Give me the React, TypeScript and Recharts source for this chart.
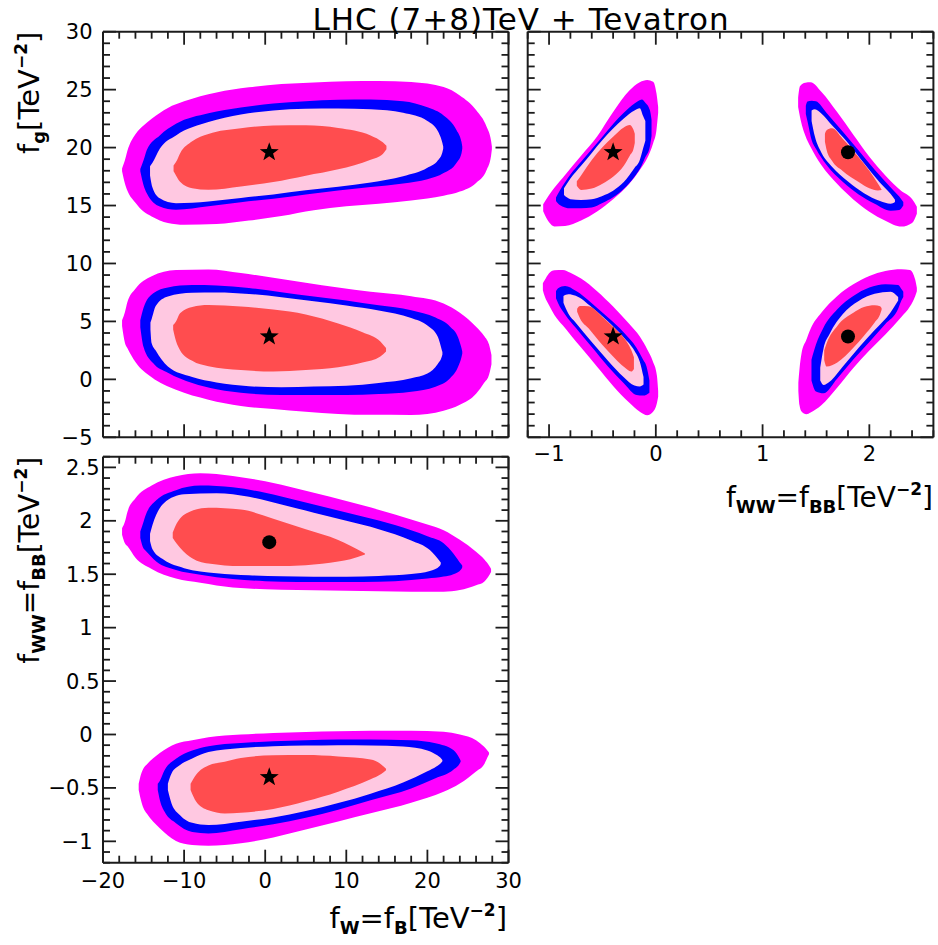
import React from "react";
import { ComposedChart, Area, Scatter, XAxis, YAxis } from "recharts";

// each row: x, lower edge, upper edge of a filled contour band
type Row = [number, number, number];
type Pt = { x: number; y: number };

const MAGENTA = "#ff00ff";
const BLUE = "#0000ff";
const PINK = "#ffc8e1";
const RED = "#ff4d4f";
const INK = "#1c1c1c";
const FONT = "'DejaVu Sans', Verdana, sans-serif";

// ---- panel A: f_g vs f_W=f_B ----
const aMagUp: Row[] = [
  [-17.65, 17.95, 18.2], [-17.3, 16.9, 18.9], [-17.0, 16.3, 19.7], [-16.0, 15.25, 21.15],
  [-15.0, 14.48, 21.9], [-14.0, 14.06, 22.48], [-12.0, 13.49, 23.42], [-10.0, 13.34, 23.99],
  [-6.0, 13.4, 24.76], [-2.0, 13.7, 25.2], [2.0, 14.1, 25.48], [6.0, 14.6, 25.62],
  [10.0, 14.93, 25.72], [14.0, 15.15, 25.75], [18.0, 15.44, 25.65], [22.0, 15.84, 25.22],
  [24.0, 16.2, 24.5], [26.0, 16.95, 23.25], [27.3, 18.07, 21.8], [27.85, 19.3, 20.6],
  [27.95, 19.85, 20.1],
];
const aBlueUp: Row[] = [
  [-15.4, 17.95, 18.15], [-15.0, 16.76, 18.9], [-14.6, 16.06, 19.8], [-13.0, 14.92, 21.05],
  [-11.0, 14.64, 22.05], [-7.0, 14.93, 22.96], [-3.0, 15.29, 23.46], [1.0, 15.59, 23.8],
  [5.0, 15.96, 24.0], [9.0, 16.3, 24.12], [13.0, 16.6, 24.14], [17.0, 16.9, 24.0],
  [20.0, 17.27, 23.47], [22.0, 17.8, 22.77], [23.6, 18.7, 21.5], [24.2, 19.5, 20.5],
  [24.3, 19.9, 20.1],
];
const aPinkUp: Row[] = [
  [-14.2, 17.6, 18.4], [-13.9, 16.55, 18.7], [-13.0, 15.62, 19.9], [-11.0, 15.2, 21.05],
  [-7.0, 15.35, 22.2], [-3.0, 15.65, 22.85], [1.0, 15.96, 23.2], [5.0, 16.31, 23.35],
  [9.0, 16.63, 23.37], [13.0, 16.99, 23.3], [17.0, 17.52, 23.0], [20.0, 18.25, 22.3],
  [21.3, 18.9, 21.4], [21.85, 19.6, 20.4], [21.95, 19.9, 20.1],
];
const aRedUp: Row[] = [
  [-11.3, 17.95, 18.45], [-11.0, 17.6, 18.75], [-10.5, 17.06, 19.5], [-9.0, 16.5, 20.55],
  [-7.0, 16.36, 21.18], [-3.0, 16.65, 21.67], [1.0, 17.02, 21.9], [5.0, 17.57, 21.93],
  [9.0, 18.12, 21.7], [13.0, 18.95, 21.05], [14.5, 19.45, 20.45], [14.95, 19.85, 20.15],
];
const aMagLo: Row[] = [
  [-17.65, 4.6, 5.1], [-17.3, 3.15, 5.8], [-17.0, 2.7, 6.65], [-16.0, 1.49, 7.82],
  [-14.0, 0.18, 8.9], [-11.0, -0.9, 9.43], [-7.0, -1.75, 9.49], [-3.0, -2.3, 9.18],
  [1.0, -2.56, 8.76], [5.0, -2.8, 8.34], [9.0, -2.98, 7.93], [13.0, -3.06, 7.55],
  [18.0, -3.07, 7.17], [22.0, -2.7, 6.54], [24.0, -2.2, 5.75], [26.0, -1.25, 4.55],
  [27.0, -0.3, 3.75], [27.6, 0.4, 3.0], [27.9, 1.3, 2.1],
];
const aBlueLo: Row[] = [
  [-15.4, 4.5, 5.1], [-15.0, 2.8, 6.17], [-13.8, 1.38, 7.42], [-12.0, 0.57, 7.93],
  [-9.0, -0.32, 8.14], [-6.0, -0.86, 8.1], [-2.0, -1.22, 7.88], [2.0, -1.35, 7.52],
  [6.0, -1.35, 7.15], [10.0, -1.35, 6.81], [14.0, -1.27, 6.39], [18.0, -1.07, 5.97],
  [21.0, -0.64, 5.33], [22.8, 0.09, 4.54], [23.8, 1.1, 3.6], [24.2, 1.9, 2.7],
  [24.3, 2.2, 2.4],
];
const aPinkLo: Row[] = [
  [-14.15, 4.3, 4.9], [-14.0, 3.11, 5.2], [-13.5, 2.48, 6.32], [-12.0, 1.1, 7.15],
  [-9.0, 0.2, 7.47], [-6.0, -0.27, 7.5], [-2.0, -0.59, 7.37], [2.0, -0.69, 7.09],
  [6.0, -0.62, 6.75], [10.0, -0.55, 6.38], [14.0, -0.31, 5.95], [18.0, 0.1, 5.3],
  [20.0, 0.5, 4.65], [21.3, 1.35, 3.65], [21.75, 1.9, 2.6], [21.85, 2.15, 2.35],
];
const aRedLo: Row[] = [
  [-11.35, 4.3, 4.7], [-11.0, 3.3, 5.0], [-10.5, 2.52, 5.7], [-9.0, 1.6, 6.25],
  [-7.0, 1.13, 6.41], [-3.0, 0.8, 6.28], [1.0, 0.68, 6.02], [5.0, 0.8, 5.6],
  [9.0, 1.05, 4.82], [12.0, 1.45, 4.07], [14.2, 1.97, 3.27], [14.9, 2.4, 2.7],
];

// ---- panel B: f_g vs f_WW=f_BB ----
const bMagUL: Row[] = [
  [-1.055, 14.5, 15.1], [-1.0, 13.55, 15.9], [-0.95, 13.2, 16.53], [-0.85, 13.23, 17.64],
  [-0.7, 13.7, 19.3], [-0.55, 14.48, 20.96], [-0.4, 15.54, 23.07], [-0.25, 16.85, 24.91],
  [-0.15, 18.06, 25.64], [-0.08, 19.1, 25.83], [-0.025, 20.37, 25.69], [0.006, 21.52, 24.68],
  [0.022, 23.0, 23.5],
];
const bBlueUL: Row[] = [
  [-0.935, 15.4, 15.7], [-0.9, 15.05, 16.27], [-0.8, 14.76, 17.67], [-0.7, 14.76, 18.77],
  [-0.6, 14.83, 19.85], [-0.5, 15.22, 20.93], [-0.4, 15.71, 22.04], [-0.3, 16.45, 23.0],
  [-0.2, 17.49, 23.8], [-0.13, 18.5, 24.15], [-0.1, 19.14, 23.9], [-0.056, 20.08, 23.24],
  [-0.04, 21.0, 22.4],
];
const bPinkUL: Row[] = [
  [-0.86, 15.9, 16.5], [-0.8, 15.55, 17.33], [-0.7, 15.48, 18.43], [-0.6, 15.54, 19.54],
  [-0.5, 15.83, 20.65], [-0.4, 16.28, 21.64], [-0.3, 17.02, 22.51], [-0.2, 18.24, 23.2],
  [-0.15, 18.93, 23.39], [-0.12, 19.91, 22.75], [-0.098, 20.6, 22.3],
];
const bRedUL: Row[] = [
  [-0.74, 16.7, 17.1], [-0.7, 16.35, 17.6], [-0.6, 16.47, 18.93], [-0.5, 16.89, 20.02],
  [-0.4, 17.49, 20.94], [-0.3, 18.44, 21.74], [-0.244, 19.3, 21.95], [-0.21, 19.85, 21.55],
  [-0.197, 20.4, 21.2],
];
const bMagUR: Row[] = [
  [1.333, 23.5, 24.3], [1.35, 22.67, 25.3], [1.4, 21.05, 25.6], [1.45, 20.05, 25.64],
  [1.55, 18.49, 24.82], [1.7, 16.85, 23.04], [1.85, 15.53, 21.11], [2.0, 14.47, 19.22],
  [2.15, 13.69, 17.6], [2.3, 13.18, 16.25], [2.4, 13.5, 15.56], [2.445, 14.3, 14.9],
];
const bBlueUR: Row[] = [
  [1.405, 22.9, 23.6], [1.42, 22.3, 23.98], [1.46, 20.64, 24.05], [1.5, 19.9, 24.0],
  [1.6, 18.5, 22.99], [1.75, 17.05, 21.39], [1.9, 15.96, 19.75], [2.05, 15.16, 18.09],
  [2.2, 14.56, 16.56], [2.28, 14.62, 15.77], [2.318, 15.0, 15.3],
];
const bPinkUR: Row[] = [
  [1.459, 22.3, 23.2], [1.49, 20.95, 23.3], [1.55, 19.58, 22.95], [1.65, 18.35, 21.93],
  [1.8, 17.07, 20.4], [1.95, 16.07, 18.64], [2.1, 15.39, 16.96], [2.2, 15.15, 15.99],
  [2.24, 15.3, 15.5],
];
const bRedUR: Row[] = [
  [1.584, 20.5, 21.2], [1.6, 19.79, 21.5], [1.65, 18.86, 21.66], [1.75, 17.99, 20.77],
  [1.9, 17.04, 19.17], [2.0, 16.49, 18.0], [2.08, 16.3, 16.9], [2.115, 16.33, 16.36],
];
const bMagLL: Row[] = [
  [-1.058, 7.7, 8.3], [-1.04, 7.14, 8.58], [-1.0, 6.4, 9.16], [-0.95, 5.56, 9.42],
  [-0.87, 4.64, 9.44], [-0.8, 3.85, 9.2], [-0.7, 2.75, 8.7], [-0.55, 1.09, 7.61],
  [-0.4, -0.57, 6.28], [-0.25, -2.0, 4.79], [-0.15, -2.8, 3.69], [-0.08, -3.1, 2.58],
  [-0.03, -2.84, 1.61], [0.01, -2.06, 0.33], [0.022, -1.5, -1.0],
];
const bBlueLL: Row[] = [
  [-0.935, 7.0, 7.6], [-0.915, 6.56, 7.86], [-0.85, 5.6, 8.05], [-0.75, 4.45, 7.64],
  [-0.6, 2.79, 6.57], [-0.45, 1.13, 5.35], [-0.3, -0.34, 4.05], [-0.18, -1.35, 2.71],
  [-0.12, -1.4, 1.71], [-0.087, -1.32, 1.1], [-0.06, -1.15, -0.1],
];
const bPinkLL: Row[] = [
  [-0.865, 6.6, 7.2], [-0.82, 5.68, 7.35], [-0.75, 4.89, 7.22], [-0.6, 3.22, 6.23],
  [-0.45, 1.63, 5.01], [-0.3, 0.18, 3.62], [-0.2, -0.54, 2.47], [-0.15, -0.62, 1.53],
  [-0.115, -0.45, 0.2],
];
const bRedLL: Row[] = [
  [-0.737, 5.84, 6.1], [-0.71, 5.25, 6.33], [-0.63, 4.4, 6.3], [-0.5, 2.96, 5.39],
  [-0.38, 1.78, 4.37], [-0.3, 1.08, 3.6], [-0.23, 0.67, 2.53], [-0.205, 0.9, 1.9],
];
const bMagLR: Row[] = [
  [1.335, -1.0, -0.3], [1.345, -2.2, 0.8], [1.365, -2.78, 2.25], [1.41, -3.01, 3.41],
  [1.45, -2.86, 4.36], [1.55, -2.24, 5.74], [1.7, -0.7, 7.2], [1.85, 0.99, 8.2],
  [2.0, 2.48, 8.92], [2.15, 3.87, 9.35], [2.3, 5.39, 9.5], [2.38, 6.28, 9.44],
  [2.43, 7.2, 8.6], [2.445, 7.6, 7.9],
];
const bBlueLR: Row[] = [
  [1.458, -0.1, 1.7], [1.5, -1.05, 3.0], [1.57, -1.2, 4.46], [1.7, 0.08, 6.05],
  [1.85, 1.71, 7.19], [2.0, 3.23, 7.92], [2.15, 4.77, 8.2], [2.27, 6.09, 8.14],
  [2.3, 6.8, 7.8], [2.318, 7.1, 7.57],
];
const bPinkLR: Row[] = [
  [1.54, -0.1, 1.0], [1.57, -0.48, 2.62], [1.63, -0.18, 3.95], [1.75, 1.09, 5.62],
  [1.9, 2.73, 6.76], [2.05, 4.25, 7.38], [2.2, 5.79, 7.57], [2.27, 6.8, 7.1],
];
const bRedLR: Row[] = [
  [1.577, 1.67, 2.5], [1.6, 1.1, 3.12], [1.7, 1.45, 4.61], [1.85, 2.72, 5.74],
  [1.95, 3.77, 6.24], [2.05, 4.91, 6.39], [2.1, 5.6, 6.3], [2.115, 6.0, 6.13],
];

// ---- panel C: f_WW=f_BB vs f_W=f_B ----
const cMagUp: Row[] = [
  [-17.65, 1.87, 1.93], [-17.3, 1.79, 1.99], [-17.0, 1.764, 2.08], [-16.0, 1.655, 2.21],
  [-14.0, 1.55, 2.33], [-11.0, 1.46, 2.417], [-8.0, 1.42, 2.445], [-4.0, 1.375, 2.42],
  [0.0, 1.36, 2.37], [4.0, 1.352, 2.3], [8.0, 1.348, 2.225], [12.0, 1.343, 2.145],
  [16.0, 1.338, 2.06], [20.0, 1.336, 1.965], [22.0, 1.337, 1.912], [24.0, 1.352, 1.822],
  [26.0, 1.397, 1.71], [27.0, 1.43, 1.64], [27.7, 1.5, 1.57], [27.85, 1.52, 1.55],
];
const cBlueUp: Row[] = [
  [-15.4, 1.84, 1.9], [-15.0, 1.74, 1.99], [-14.8, 1.725, 2.04], [-13.4, 1.617, 2.194],
  [-11.0, 1.54, 2.287], [-8.0, 1.495, 2.33], [-4.0, 1.455, 2.313], [0.0, 1.435, 2.263],
  [4.0, 1.428, 2.19], [8.0, 1.427, 2.115], [12.0, 1.428, 2.04], [16.0, 1.435, 1.96],
  [20.0, 1.46, 1.855], [22.0, 1.478, 1.79], [23.2, 1.5, 1.695], [24.2, 1.55, 1.59],
  [24.3, 1.565, 1.58],
];
const cPinkUp: Row[] = [
  [-14.2, 1.81, 1.88], [-13.9, 1.733, 1.96], [-12.5, 1.635, 2.165], [-10.0, 1.557, 2.248],
  [-6.0, 1.51, 2.258], [-2.0, 1.49, 2.225], [2.0, 1.482, 2.152], [6.0, 1.477, 2.076],
  [10.0, 1.477, 2.0], [14.0, 1.484, 1.922], [18.0, 1.502, 1.816], [20.3, 1.53, 1.726],
  [21.55, 1.58, 1.62], [21.65, 1.595, 1.61],
];
const cRedUp: Row[] = [
  [-11.4, 1.84, 1.89], [-10.9, 1.785, 1.977], [-9.3, 1.664, 2.085], [-7.0, 1.6, 2.122],
  [-3.0, 1.576, 2.105], [1.0, 1.576, 2.02], [5.0, 1.585, 1.92], [9.0, 1.618, 1.82],
  [10.5, 1.64, 1.766], [12.3, 1.685, 1.693],
];
const cMagLo: Row[] = [
  [-15.6, -0.52, -0.46], [-15.3, -0.62, -0.37], [-15.0, -0.69, -0.315], [-14.6, -0.74, -0.28],
  [-13.0, -0.878, -0.174], [-11.0, -0.997, -0.087], [-9.0, -1.035, -0.055], [-7.0, -1.042, -0.025],
  [-3.0, -1.018, 0.0], [1.0, -0.964, 0.015], [5.0, -0.89, 0.024], [9.0, -0.814, 0.03],
  [13.0, -0.738, 0.035], [18.0, -0.64, 0.035], [22.0, -0.537, 0.025], [24.0, -0.459, 0.0],
  [26.0, -0.346, -0.053], [27.0, -0.279, -0.115], [27.5, -0.2, -0.16], [27.6, -0.185, -0.17],
];
const cBlueLo: Row[] = [
  [-13.25, -0.52, -0.46], [-13.0, -0.61, -0.435], [-12.4, -0.724, -0.333], [-11.0, -0.83, -0.227],
  [-9.0, -0.912, -0.15], [-7.0, -0.926, -0.11], [-3.0, -0.886, -0.08], [1.0, -0.839, -0.063],
  [5.0, -0.779, -0.054], [9.0, -0.705, -0.048], [13.0, -0.616, -0.047], [18.0, -0.505, -0.053],
  [21.0, -0.41, -0.083], [23.2, -0.33, -0.146], [24.0, -0.27, -0.23], [24.1, -0.255, -0.245],
];
const cPinkLo: Row[] = [
  [-12.0, -0.52, -0.46], [-11.55, -0.645, -0.365], [-10.5, -0.755, -0.286], [-9.0, -0.827, -0.225],
  [-7.0, -0.848, -0.165], [-3.0, -0.816, -0.127], [1.0, -0.776, -0.11], [5.0, -0.716, -0.104],
  [9.0, -0.642, -0.1], [13.0, -0.554, -0.102], [17.0, -0.45, -0.112], [20.0, -0.345, -0.15],
  [21.1, -0.3, -0.19], [21.75, -0.26, -0.23], [21.85, -0.25, -0.24],
];
const cRedLo: Row[] = [
  [-9.2, -0.52, -0.46], [-8.5, -0.63, -0.375], [-7.0, -0.71, -0.29], [-5.0, -0.739, -0.255],
  [-3.0, -0.732, -0.22], [1.0, -0.697, -0.195], [5.0, -0.625, -0.193], [9.0, -0.535, -0.206],
  [13.0, -0.419, -0.235], [14.3, -0.37, -0.28], [14.9, -0.335, -0.32],
];

// best-fit markers
const aStars: Pt[] = [{ x: 0.5, y: 19.6 }, { x: 0.5, y: 3.7 }];
const bStars: Pt[] = [{ x: -0.4, y: 19.6 }, { x: -0.4, y: 3.7 }];
const bDots: Pt[] = [{ x: 1.8, y: 19.6 }, { x: 1.8, y: 3.7 }];
const cStars: Pt[] = [{ x: 0.5, y: -0.4 }];
const cDots: Pt[] = [{ x: 0.5, y: 1.8 }];

// axis ticks
const aXMajor = [-20, -10, 0, 10, 20, 30];
const aYMajor = [-5, 0, 5, 10, 15, 20, 25, 30];
const bXMajor = [-1, 0, 1, 2];
const cYMajor = [-1, -0.5, 0, 0.5, 1, 1.5, 2, 2.5];

function steps(lo: number, hi: number, step: number) {
  const n = Math.round((hi - lo) / step);
  return Array.from({ length: n + 1 }, (_, i) => Math.round((lo + i * step) * 1000) / 1000);
}

const toRows = (rows: Row[]) => rows.map(([x, lo, hi]) => ({ x, band: [lo, hi] }));

function fmt(v: number) {
  const s = String(Math.round(Math.abs(v) * 100) / 100);
  return v < 0 ? "\u2212" + s : s;
}

type Side = "bottom" | "top" | "left" | "right";

function tickFor(side: Side, majors: number[], labels: boolean, labelDy = 25) {
  return (p: any) => {
    const { x, y, payload } = p;
    const v = payload.value;
    const major = majors.some((m) => Math.abs(m - v) < 1e-6);
    const len = major ? 13 : 7;
    let x2 = x;
    let y2 = y;
    if (side === "bottom") y2 = y - len;
    if (side === "top") y2 = y + len;
    if (side === "left") x2 = x + len;
    if (side === "right") x2 = x - len;
    const label = labels && major ? fmt(v) : null;
    return (
      <g>
        <line x1={x} y1={y} x2={x2} y2={y2} stroke={INK} strokeWidth={1.8} />
        {label && side === "bottom" && (
          <text x={x} y={y + labelDy} textAnchor="middle" fontSize={21} fontFamily={FONT} fill="#000">
            {label}
          </text>
        )}
        {label && side === "left" && (
          <text
            x={x - (label.includes(".") ? 3.5 : 10.5)}
            y={y}
            dy="0.36em"
            textAnchor="end"
            fontSize={21}
            fontFamily={FONT}
            fill="#000"
          >
            {label}
          </text>
        )}
      </g>
    );
  };
}

function Star(p: any) {
  const pts: string[] = [];
  for (let i = 0; i < 10; i++) {
    const r = i % 2 === 0 ? 10 : 4;
    const a = -Math.PI / 2 + (i * Math.PI) / 5;
    pts.push(`${p.cx + r * Math.cos(a)},${p.cy + r * Math.sin(a)}`);
  }
  return <polygon points={pts.join(" ")} fill="#000" />;
}

function Dot(p: any) {
  return <circle cx={p.cx} cy={p.cy} r={7} fill="#000" />;
}

type Layer = { rows: Row[]; color: string };

type PanelProps = {
  left: number;
  top: number;
  width: number;
  height: number;
  // position of the plotting box inside the chart (axes take 1px each)
  box: { top: number; right: number; bottom: number; left: number };
  xDomain: [number, number];
  yDomain: [number, number];
  xTicks: number[];
  yTicks: number[];
  xMajor: number[];
  yMajor: number[];
  xLabels: boolean;
  yLabels: boolean;
  xLabelDy?: number;
  layers: Layer[];
  stars: Pt[];
  dots: Pt[];
};

function Panel(props: PanelProps) {
  const axisLine = { stroke: INK, strokeWidth: 2 };
  const b = props.box;
  const margin = { top: b.top - 1, right: b.right - 1, bottom: b.bottom - 1, left: b.left - 1 };
  const common = {
    type: "number" as const,
    interval: 0 as const,
    allowDataOverflow: true,
    tickLine: false,
    tickSize: 0,
    tickMargin: 0,
    axisLine,
  };
  return (
    <div style={{ position: "absolute", left: props.left, top: props.top }}>
      <ComposedChart width={props.width} height={props.height} margin={margin}>
        <XAxis
          {...common}
          dataKey="x"
          domain={props.xDomain}
          ticks={props.xTicks}
          height={1}
          tick={tickFor("bottom", props.xMajor, props.xLabels, props.xLabelDy)}
        />
        <XAxis
          {...common}
          xAxisId="top"
          orientation="top"
          dataKey="x"
          domain={props.xDomain}
          ticks={props.xTicks}
          height={1}
          tick={tickFor("top", props.xMajor, false)}
        />
        <YAxis
          {...common}
          domain={props.yDomain}
          ticks={props.yTicks}
          width={1}
          tick={tickFor("left", props.yMajor, props.yLabels)}
        />
        <YAxis
          {...common}
          yAxisId="right"
          orientation="right"
          domain={props.yDomain}
          ticks={props.yTicks}
          width={1}
          tick={tickFor("right", props.yMajor, false)}
        />
        {props.layers.map((l, i) => (
          <Area
            key={i}
            data={toRows(l.rows)}
            dataKey="band"
            type="monotone"
            fill={l.color}
            fillOpacity={1}
            stroke="none"
            isAnimationActive={false}
          />
        ))}
        <Scatter data={props.stars} dataKey="y" shape={Star} isAnimationActive={false} />
        <Scatter data={props.dots} dataKey="y" shape={Dot} isAnimationActive={false} />
      </ComposedChart>
    </div>
  );
}

export default function App() {
  const sub = { fontSize: 18, fontWeight: 700 as const };
  const sup = { fontSize: 17, fontWeight: 700 as const };
  return (
    <div style={{ position: "absolute", left: 0, top: 0, width: 938, height: 945, background: "#fff" }}>
      <Panel
        left={0}
        top={0}
        width={520}
        height={470}
        box={{ top: 31.7, right: 11.5, bottom: 32.7, left: 103 }}
        xDomain={[-20, 30]}
        yDomain={[-5, 30]}
        xTicks={steps(-20, 30, 2)}
        yTicks={steps(-5, 30, 1)}
        xMajor={aXMajor}
        yMajor={aYMajor}
        xLabels={false}
        yLabels={true}
        layers={[
          { rows: aMagUp, color: MAGENTA }, { rows: aMagLo, color: MAGENTA },
          { rows: aBlueUp, color: BLUE }, { rows: aBlueLo, color: BLUE },
          { rows: aPinkUp, color: PINK }, { rows: aPinkLo, color: PINK },
          { rows: aRedUp, color: RED }, { rows: aRedLo, color: RED },
        ]}
        stars={aStars}
        dots={[]}
      />
      <Panel
        left={515}
        top={0}
        width={423}
        height={470}
        box={{ top: 31.7, right: 4.6, bottom: 32.7, left: 12.7 }}
        xDomain={[-1.2, 2.6]}
        yDomain={[-5, 30]}
        xTicks={steps(-1.2, 2.6, 0.2)}
        yTicks={steps(-5, 30, 1)}
        xMajor={bXMajor}
        yMajor={aYMajor}
        xLabels={true}
        yLabels={false}
        xLabelDy={23.5}
        layers={[
          { rows: bMagUL, color: MAGENTA }, { rows: bMagUR, color: MAGENTA },
          { rows: bMagLL, color: MAGENTA }, { rows: bMagLR, color: MAGENTA },
          { rows: bBlueUL, color: BLUE }, { rows: bBlueUR, color: BLUE },
          { rows: bBlueLL, color: BLUE }, { rows: bBlueLR, color: BLUE },
          { rows: bPinkUL, color: PINK }, { rows: bPinkUR, color: PINK },
          { rows: bPinkLL, color: PINK }, { rows: bPinkLR, color: PINK },
          { rows: bRedUL, color: RED }, { rows: bRedUR, color: RED },
          { rows: bRedLL, color: RED }, { rows: bRedLR, color: RED },
        ]}
        stars={bStars}
        dots={bDots}
      />
      <Panel
        left={0}
        top={440}
        width={545}
        height={480}
        box={{ top: 16.7, right: 36.5, bottom: 57.3, left: 103 }}
        xDomain={[-20, 30]}
        yDomain={[-1.2, 2.6]}
        xTicks={steps(-20, 30, 2)}
        yTicks={steps(-1.2, 2.6, 0.1)}
        xMajor={aXMajor}
        yMajor={cYMajor}
        xLabels={true}
        yLabels={true}
        xLabelDy={25.5}
        layers={[
          { rows: cMagUp, color: MAGENTA }, { rows: cMagLo, color: MAGENTA },
          { rows: cBlueUp, color: BLUE }, { rows: cBlueLo, color: BLUE },
          { rows: cPinkUp, color: PINK }, { rows: cPinkLo, color: PINK },
          { rows: cRedUp, color: RED }, { rows: cRedLo, color: RED },
        ]}
        stars={cStars}
        dots={cDots}
      />
      <svg
        width={938}
        height={945}
        style={{ position: "absolute", left: 0, top: 0, pointerEvents: "none" }}
        fontFamily={FONT}
      >
        <text x={521} y={29.5} textAnchor="middle" fontSize={31} letterSpacing={1} fill="#000">
          LHC (7+8)TeV + Tevatron
        </text>
        <text transform="translate(39,31.7) rotate(-90)" textAnchor="end" fontSize={29} fill="#000">
          f<tspan {...sub} dy={6}>g</tspan>
          <tspan dy={-6}>[TeV</tspan>
          <tspan {...sup} dy={-12}>{"\u22122"}</tspan>
          <tspan dy={12}>]</tspan>
        </text>
        <text transform="translate(39,456.7) rotate(-90)" textAnchor="end" fontSize={28} fill="#000">
          f<tspan {...sub} dy={6}>WW</tspan>
          <tspan dy={-6}>=f</tspan>
          <tspan {...sub} dy={6}>BB</tspan>
          <tspan dy={-6}>[TeV</tspan>
          <tspan {...sup} dy={-12}>{"\u22122"}</tspan>
          <tspan dy={12}>]</tspan>
        </text>
        <text x={933} y={507} textAnchor="end" fontSize={28} fill="#000">
          f<tspan {...sub} dy={6}>WW</tspan>
          <tspan dy={-6}>=f</tspan>
          <tspan {...sub} dy={6}>BB</tspan>
          <tspan dy={-6}>[TeV</tspan>
          <tspan {...sup} dy={-12}>{"\u22122"}</tspan>
          <tspan dy={12}>]</tspan>
        </text>
        <text x={507} y={928} textAnchor="end" fontSize={29} fill="#000">
          f<tspan {...sub} dy={6}>W</tspan>
          <tspan dy={-6}>=f</tspan>
          <tspan {...sub} dy={6}>B</tspan>
          <tspan dy={-6}>[TeV</tspan>
          <tspan {...sup} dy={-12}>{"\u22122"}</tspan>
          <tspan dy={12}>]</tspan>
        </text>
      </svg>
    </div>
  );
}
